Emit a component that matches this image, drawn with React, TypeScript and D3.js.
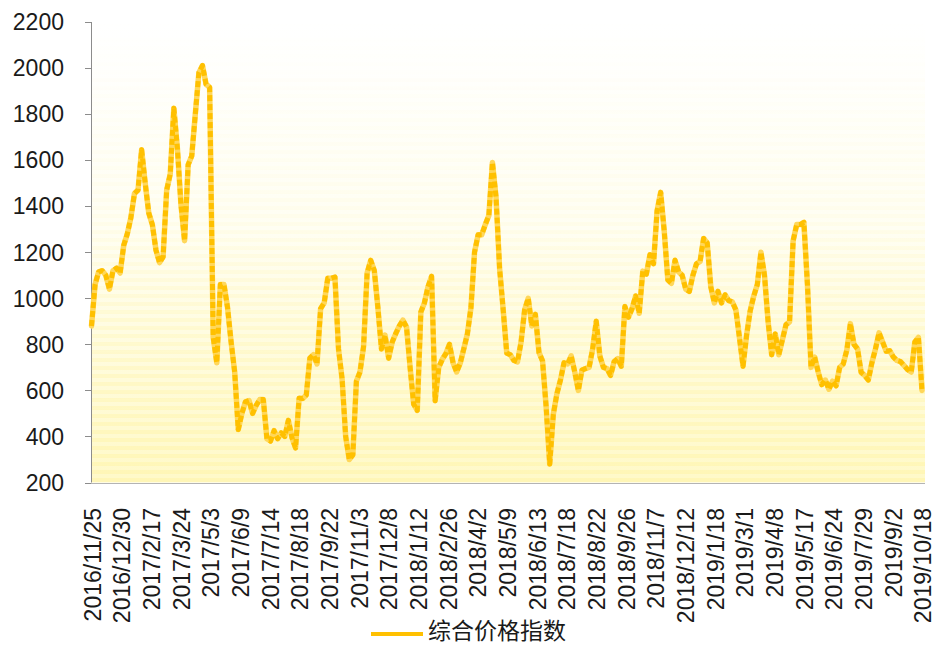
import { useMemo } from 'react'
import * as d3 from 'd3'

// 综合价格指数 at even steps along the category axis
const indexValues: number[] = [
  880, 1060, 1115, 1120, 1100, 1040, 1120, 1131,
  1110, 1230, 1280, 1350, 1455, 1470, 1645, 1500,
  1370, 1320, 1210, 1155, 1180, 1470, 1540, 1825,
  1650, 1405, 1250, 1580, 1618, 1800, 1980, 2011,
  1930, 1916, 830, 720, 1060, 1060, 960, 810,
  680, 430, 500, 550, 556, 500, 535, 560,
  560, 390, 380, 425, 390, 415, 400, 470,
  395, 350, 566, 565, 580, 740, 755, 715,
  955, 980, 1087, 1087, 1092, 780, 650, 400,
  300, 320, 640, 680, 790, 1110, 1165, 1120,
  960, 780, 840, 740, 810, 847, 880, 905,
  875, 700, 540, 513, 940, 980, 1050, 1095,
  555, 700, 735, 760, 800, 720, 680, 718,
  780, 845, 960, 1200, 1276, 1276, 1320, 1360,
  1590, 1440, 1130, 950, 762, 755, 730, 724,
  810, 950, 1000, 880, 930, 765, 728, 530,
  280, 495, 585, 645, 720, 715, 750, 680,
  600, 688, 695, 700, 780, 900, 750, 700,
  695, 665, 725, 738, 705, 964, 918, 955,
  1010, 935, 1118, 1105, 1189, 1150, 1380, 1460,
  1290, 1080, 1065, 1165, 1115, 1100, 1040, 1030,
  1100, 1150, 1160, 1260, 1240, 1050, 980, 1030,
  980, 1015, 990, 985, 950, 830, 705, 840,
  945, 1010, 1060, 1200, 1100, 900, 755, 845,
  755, 820, 885, 898, 1250, 1320, 1320, 1330,
  1060, 700, 745, 680, 625, 645, 605, 640,
  620, 700, 715, 775, 890, 800, 780, 678,
  665, 645, 720, 780, 850, 810, 770, 772,
  745, 730, 725, 708, 690, 680, 810, 830,
  600,
]

const dateLabels: string[] = [
  '2016/11/25', '2016/12/30', '2017/2/17', '2017/3/24', '2017/5/3', '2017/6/9',
  '2017/7/14', '2017/8/18', '2017/9/22', '2017/11/3', '2017/12/8', '2018/1/12',
  '2018/2/26', '2018/4/2', '2018/5/9', '2018/6/13', '2018/7/18', '2018/8/22',
  '2018/9/26', '2018/11/7', '2018/12/12', '2019/1/18', '2019/3/1', '2019/4/8',
  '2019/5/17', '2019/6/24', '2019/7/29', '2019/9/2', '2019/10/18',
]

const yTicks: number[] = [200, 400, 600, 800, 1000, 1200, 1400, 1600, 1800, 2000, 2200]

const seriesName = '综合价格指数'

const W = 936
const H = 646
const margin = { top: 22, right: 14, bottom: 164, left: 91 }

export default function App() {
  const x = useMemo(() => d3.scaleLinear()
    .domain([0, indexValues.length - 1])
    .range([margin.left + 0.5, W - margin.right]), [])

  const y = useMemo(() => d3.scaleLinear()
    .domain([200, 2200])
    .range([H - margin.bottom + 0.5, margin.top]), [])

  const linePath = useMemo(() => d3.line<number>()
    .x((_, i) => x(i))
    .y(d => y(d))(indexValues) || '', [x, y])

  // labels are spread evenly over the whole category range
  const labelStep = (indexValues.length - 1) / (dateLabels.length - 1)

  const plotTop = y(2200)
  const plotBottom = y(200)
  const plotLeft = margin.left
  const plotRight = W - margin.right + 3
  const font = '"Liberation Sans", Arial, sans-serif'

  return (
    <svg width={W} height={H} style={{ position: 'absolute', left: 0, top: 0, background: '#fff' }}>
      <defs>
        <linearGradient id="plotBg" x1="0" y1="0" x2="0" y2="1">
          <stop offset="0%" stopColor="#ffffff" />
          <stop offset="45%" stopColor="#fffef2" />
          <stop offset="100%" stopColor="#fff9c8" />
        </linearGradient>
        <linearGradient id="stripeFade" x1="0" y1="0" x2="0" y2="1">
          <stop offset="0%" stopColor="#fff" stopOpacity="0" />
          <stop offset="40%" stopColor="#fff" stopOpacity="0.15" />
          <stop offset="100%" stopColor="#fff" stopOpacity="1" />
        </linearGradient>
        <mask id="stripeMask">
          <rect x={plotLeft} y={plotTop} width={plotRight - plotLeft} height={plotBottom - plotTop} fill="url(#stripeFade)" />
        </mask>
        <pattern id="stripes" x="0" y={plotTop} width="8" height="8" patternUnits="userSpaceOnUse">
          <rect x="0" y="0" width="8" height="4" fill="#fff4a8" opacity="0.55" />
        </pattern>
      </defs>

      {/* plot background */}
      <rect x={plotLeft} y={plotTop} width={plotRight - plotLeft} height={plotBottom - plotTop} fill="url(#plotBg)" />
      <rect x={plotLeft} y={plotTop} width={plotRight - plotLeft} height={plotBottom - plotTop} fill="url(#stripes)" mask="url(#stripeMask)" />

      {/* y axis */}
      <line x1={margin.left + 0.5} x2={margin.left + 0.5} y1={plotTop} y2={plotBottom} stroke="#8c8c8c" strokeWidth={1} />
      {yTicks.map(t => (
        <g key={t}>
          <line x1={margin.left - 6} x2={margin.left + 0.5} y1={Math.round(y(t)) + 0.5} y2={Math.round(y(t)) + 0.5} stroke="#8c8c8c" />
          <text x={64} y={y(t)} dy="0.36em" textAnchor="end" fontFamily={font} fontSize={23} fill="#1a1a1a">{t}</text>
        </g>
      ))}

      {/* x axis */}
      <line x1={margin.left} x2={plotRight} y1={Math.round(plotBottom) + 0.5} y2={Math.round(plotBottom) + 0.5} stroke="#b4b4b4" strokeWidth={1} />
      {dateLabels.map((d, i) => {
        const px = x(i * labelStep) + 1
        return (
          <text key={d} transform={`translate(${px},508) rotate(-90)`} dy="0.36em" textAnchor="end"
            fontFamily={font} fontSize={23} fill="#1a1a1a">{d}</text>
        )
      })}

      {/* series */}
      <path d={linePath} fill="none" stroke="#ffd75a" strokeWidth={5.5} strokeLinejoin="round" strokeLinecap="round" />
      <path d={linePath} fill="none" stroke="#ffc000" strokeWidth={5} strokeLinejoin="round" strokeDasharray="6,3" />

      {/* legend */}
      <line x1={371} x2={423} y1={634} y2={634} stroke="#ffc000" strokeWidth={4} />
      <text x={428} y={639} fontFamily='"Noto Sans CJK SC", sans-serif' fontSize={23} fill="#1a1a1a">{seriesName}</text>
    </svg>
  )
}
